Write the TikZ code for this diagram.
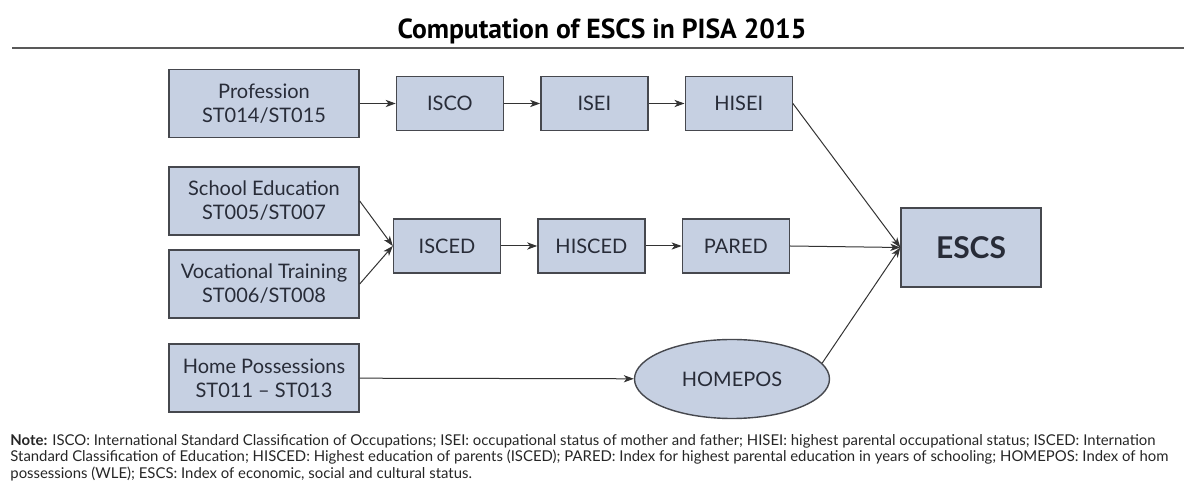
\documentclass[tikz,border=0pt]{standalone}
\usepackage{fontspec}
\setmainfont{Lato}
\newfontfamily\titlefont{PT Sans}
\usepackage{xcolor}
\usepackage{tikz}
\usetikzlibrary{arrows.meta,positioning,shapes.geometric}

\definecolor{boxfill}{RGB}{198,208,226}
\definecolor{boxline}{RGB}{70,72,78}
\definecolor{boxtext}{RGB}{40,44,56}

\begin{document}
\begin{tikzpicture}[
    x=0.5pt, y=-0.5pt,
    node distance=18pt,
    source/.style={
        % The shape:
        rectangle,
        minimum width=95pt,
        minimum height=34pt,
        % The fill
        draw=boxline,
        line width=0.7pt,
        fill=boxfill,
        % The fonts
        align=center,
        text=boxtext,
        font=\fontsize{10}{12}\selectfont},
    index/.style={
        source,
        minimum width=53.5pt,
        minimum height=27pt},
    flow/.style={
        draw=black!80,
        line width=0.5pt,
        -{Stealth[length=5pt,width=3.6pt,inset=1.4pt]}}
  ]
  \useasboundingbox (0,0) rectangle (1184,491);
  % title and rule
  \node (title) at (602,31) {\titlefont\bfseries\fontsize{13.8}{16}\selectfont Computation of ESCS in PISA 2015};
  \draw [black!65,line width=1pt] (12,48) -- (1184,48);
  % left column
  \node (profession) [source] at (264,103.5) {Profession\\ST014/ST015};
  \node (school) [source] at (264,201) {School Education\\ST005/ST007};
  \node (vocational) [source] at (264,284) {Vocational Training\\ST006/ST008};
  \node (home) [source] at (264,378) {Home Possessions\\ST011 -- ST013};
  % occupation row
  \node (isco) [index,right=of profession] {ISCO};
  \node (isei) [index,right=of isco] {ISEI};
  \node (hisei) [index,right=of isei] {HISEI};
  % education row
  \node (isced) [index] at (447,246) {ISCED};
  \node (hisced) [index,right=of isced] {HISCED};
  \node (pared) [index,right=of hisced] {PARED};
  % possessions and the index
  \node (homepos) [ellipse,draw=boxline,line width=0.7pt,fill=boxfill,
    minimum width=97.5pt,minimum height=39.5pt,text=boxtext,
    font=\fontsize{10}{12}\selectfont] at (732,379) {HOMEPOS};
  \node (escs) [source,minimum width=70pt,minimum height=39.5pt,
    font=\bfseries\fontsize{15}{18}\selectfont] at (971,247.5) {ESCS};
  \draw [flow] (profession) -- (isco);
  \draw [flow] (isco) -- (isei);
  \draw [flow] (isei) -- (hisei);
  \draw [flow] (school.east) -- (isced.west);
  \draw [flow] (vocational.east) -- (isced.west);
  \draw [flow] (isced) -- (hisced);
  \draw [flow] (hisced) -- (pared);
  \draw [flow] (home) -- (homepos);
  \draw [flow] (hisei.east) -- (escs.west);
  \draw [flow] (pared.east) -- (escs.west);
  \draw [flow] (homepos.10) -- (escs.west);
  % note
  \node (note) [anchor=north west,align=left,inner sep=0pt,text=black!85,
    font=\fontsize{7.45}{8.3}\selectfont] at (10,434)
    {\textbf{Note:} ISCO: International Standard Classification of Occupations; ISEI: occupational status of mother and father; HISEI: highest parental occupational status; ISCED: Internation\\
     Standard Classification of Education; HISCED: Highest education of parents (ISCED); PARED: Index for highest parental education in years of schooling; HOMEPOS: Index of hom\\
     possessions (WLE); ESCS: Index of economic, social and cultural status.};
\end{tikzpicture}
\end{document}
